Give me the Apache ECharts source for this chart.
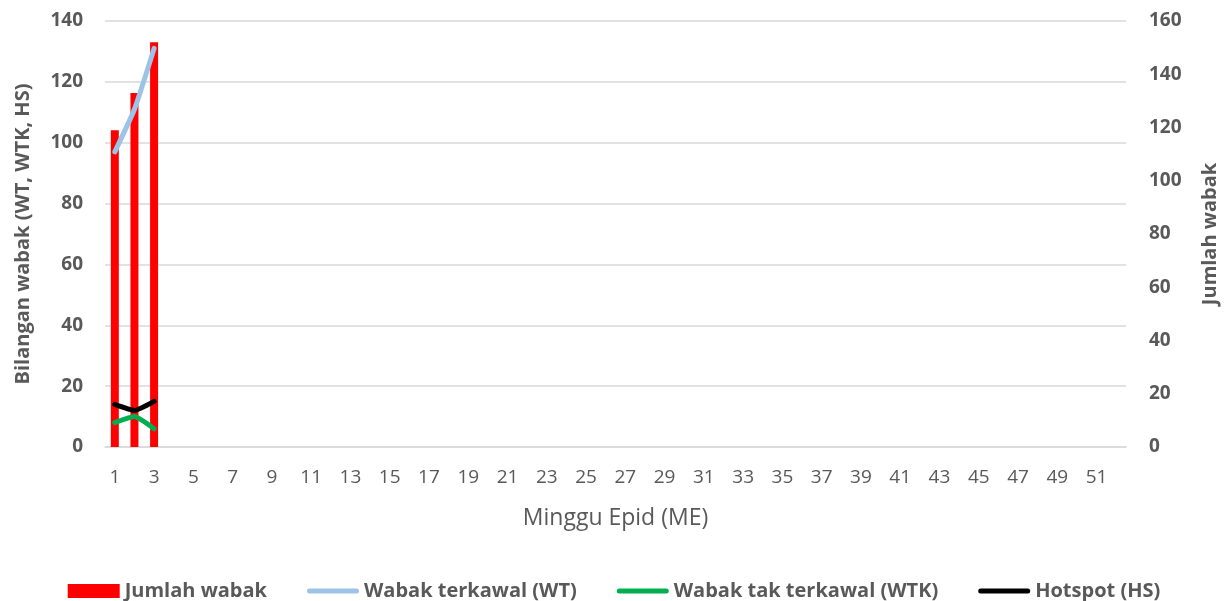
<!DOCTYPE html>
<html>
<head>
<meta charset="utf-8">
<script src="https://cdn.jsdelivr.net/npm/echarts@6/dist/echarts.min.js"></script>
<style>
html, body { margin: 0; padding: 0; background: #fff; }
#container { width: 1228px; height: 601px; }
</style>
</head>
<body>
<div id="container"></div>
<script>
// minggu epid 1..52
var weeks = [];
for (var i = 1; i <= 52; i++) weeks.push(String(i));

var jumlahWabak = [119, 133, 152];
var wabakTerkawal = [97, 111, 131];
var wabakTakTerkawal = [8, 10, 6];
var hotspot = [14, 12, 15];

var fontarr = ['Jumlah wabak', 'Wabak terkawal (WT)', 'Wabak tak terkawal (WTK)', 'Hotspot (HS)'];

var txt = '#595959';
var font = 'Open Sans';
// legend line icon (thick rounded stroke)
var lineIcon = 'path://M2.5,0 L49.5,0 A2.5,2.5 0 0 1 49.5,5 L2.5,5 A2.5,2.5 0 0 1 2.5,0 Z';

var myChart = echarts.init(document.getElementById('container'));

var option = {
    animation: false,
    textStyle: { fontFamily: font },
    grid: {
        left: 105,
        right: 96,
        top: 21,
        bottom: 154
    },
    legend: {
        top: 576,
        left: 'center',
        itemGap: 40,
        itemWidth: 52,
        itemHeight: 14,
        symbolKeepAspect: true,
        textStyle: { color: txt, fontSize: 20, fontWeight: 'bold', fontFamily: font },
        data: [
            { name: fontarr[0], icon: 'rect' },
            { name: fontarr[1], icon: lineIcon },
            { name: fontarr[2], icon: lineIcon },
            { name: fontarr[3], icon: lineIcon }
        ]
    },
    xAxis: {
        type: 'category',
        data: weeks,
        name: 'Minggu Epid (ME)',
        nameLocation: 'middle',
        nameGap: 60,
        nameTextStyle: { color: txt, fontSize: 23, fontFamily: font },
        axisLine: { lineStyle: { color: '#d9d9d9', width: 1.5 } },
        axisTick: { show: false },
        axisLabel: { interval: 1, color: txt, fontSize: 19, margin: 21 }
    },
    yAxis: [{
        type: 'value',
        min: 0,
        max: 140,
        interval: 20,
        name: 'Bilangan wabak (WT, WTK, HS)',
        nameLocation: 'middle',
        nameGap: 72,
        nameTextStyle: { color: txt, fontSize: 20, fontWeight: 'bold', fontFamily: font },
        axisLabel: { color: txt, fontSize: 19, fontWeight: 'bold', margin: 22 },
        splitLine: { lineStyle: { color: '#d9d9d9', width: 1.5 } }
    }, {
        type: 'value',
        min: 0,
        max: 160,
        interval: 20,
        name: 'Jumlah wabak',
        nameLocation: 'middle',
        nameGap: 74,
        nameTextStyle: { color: txt, fontSize: 20, fontWeight: 'bold', fontFamily: font },
        axisLabel: { color: txt, fontSize: 19, fontWeight: 'bold', margin: 23 },
        splitLine: { show: false }
    }],
    series: [
        {
            name: fontarr[0],
            type: 'bar',
            yAxisIndex: 1,
            data: jumlahWabak,
            barWidth: 8,
            itemStyle: { color: '#ff0000' }
        },
        {
            name: fontarr[1],
            type: 'line',
            data: wabakTerkawal,
            smooth: 0.15,
            symbol: 'none',
            lineStyle: { color: '#9dc3e6', width: 5, cap: 'round' },
            itemStyle: { color: '#9dc3e6' }
        },
        {
            name: fontarr[2],
            type: 'line',
            data: wabakTakTerkawal,
            smooth: 0.15,
            symbol: 'none',
            lineStyle: { color: '#00b050', width: 5, cap: 'round' },
            itemStyle: { color: '#00b050' }
        },
        {
            name: fontarr[3],
            type: 'line',
            data: hotspot,
            smooth: 0.15,
            symbol: 'none',
            lineStyle: { color: '#000000', width: 5, cap: 'round' },
            itemStyle: { color: '#000000' }
        }
    ]
};
myChart.setOption(option);
</script>
</body>
</html>
